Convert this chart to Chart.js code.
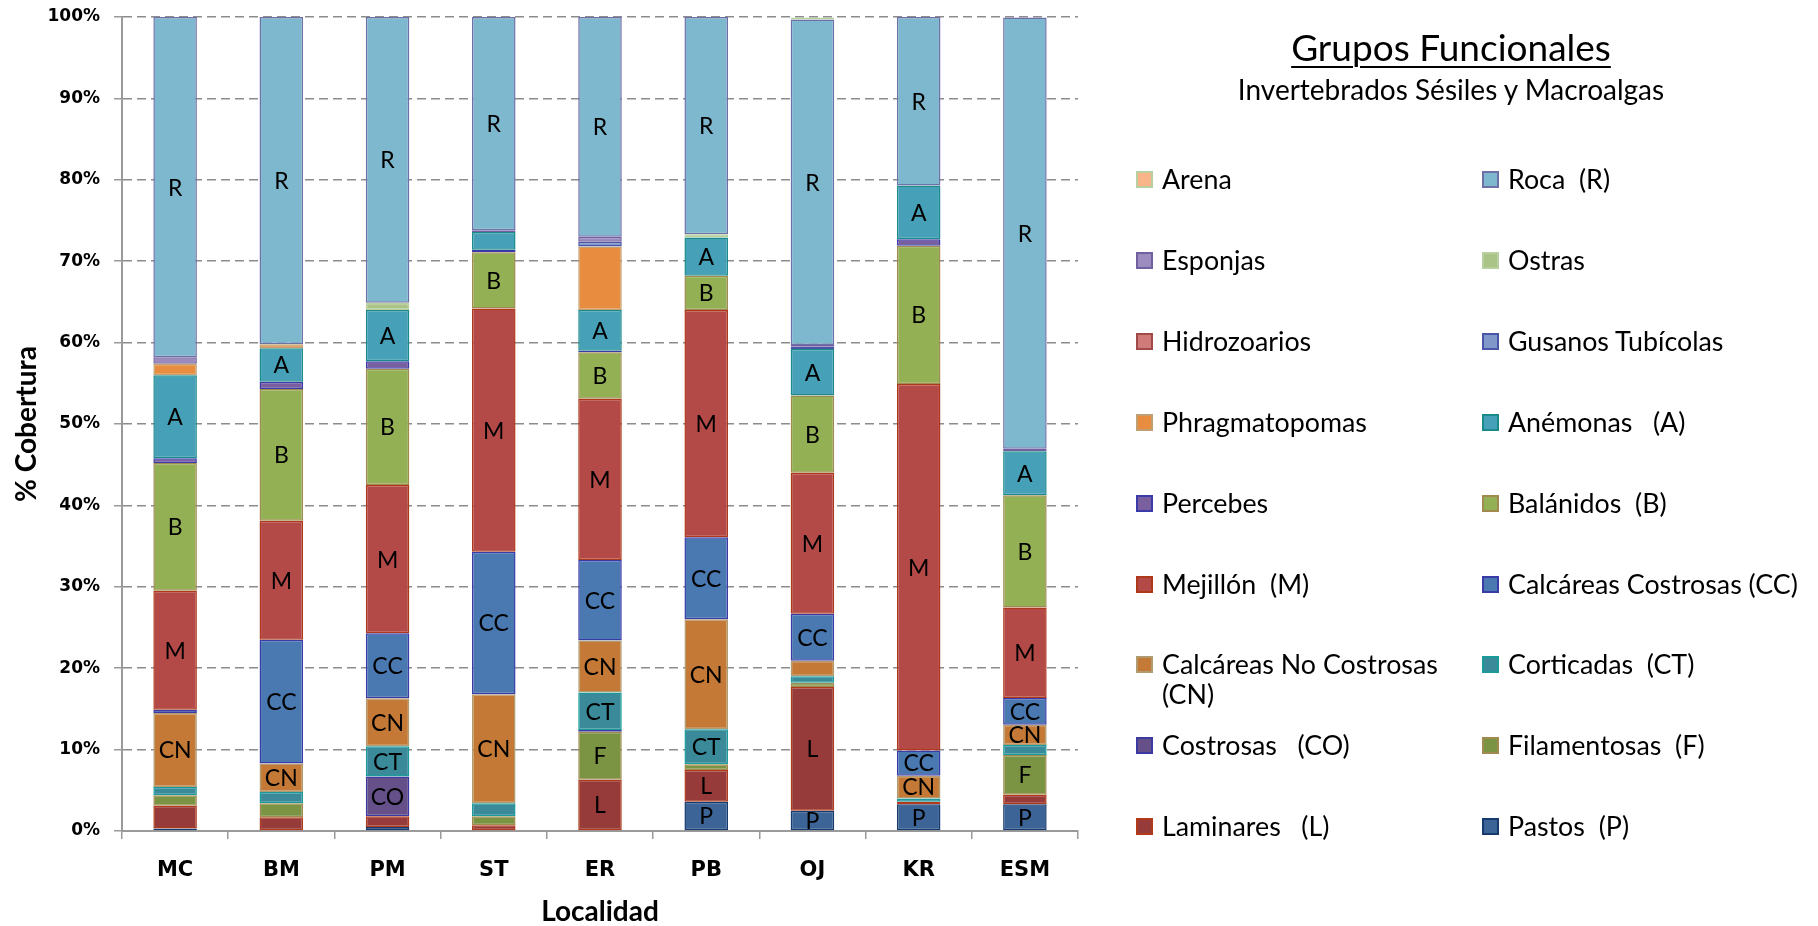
<!DOCTYPE html>
<html>
<head>
<meta charset="utf-8">
<title>Grupos Funcionales</title>
<script src="https://cdn.jsdelivr.net/npm/chart.js@4/dist/chart.umd.min.js"></script>
<style>
  html, body { margin: 0; padding: 0; background: #fff; }
  #wrap { position: relative; width: 1818px; height: 926px; overflow: hidden; }
  #chart { position: absolute; left: 0; top: 0; }
  #legendBox { position: absolute; left: 0; top: 0; font-family: Lato, "Open Sans", sans-serif; color: #000; }
  .lg-title { position: absolute; left: 1151px; width: 600px; top: 25px; text-align: center;
    font-size: 37px; line-height: 44px; text-decoration: underline; text-underline-offset: 5px; text-decoration-thickness: 2px; }
  .lg-sub { position: absolute; left: 1151px; width: 600px; top: 73px; text-align: center;
    font-size: 28px; line-height: 32px; }
  .lg-item { position: absolute; display: flex; align-items: flex-start; }
  .lg-mark { width: 13px; height: 13px; border: 2px solid; margin-top: 7px; flex: none; }
  .lg-text { font-size: 26.8px; line-height: 30px; margin-left: 9px; white-space: pre-wrap; width: 300px; }
</style>
</head>
<body>
<div id="wrap">
  <canvas id="chart" width="1818" height="926"></canvas>
  <div id="legendBox"></div>
</div>
<script>
// Localidades
const categories = ["MC", "BM", "PM", "ST", "ER", "PB", "OJ", "KR", "ESM"];

// % cobertura per grupo (same order as categories)
const pastos       = [0.3, 0,    0.5,  0,    0,    3.6,  2.5,  3.3,  3.3];
const laminares    = [2.8, 1.7,  1.3,  0.7,  6.3,  3.9,  15.2, 0.3,  1.15];
const filamentosas = [1.3, 1.7,  0,    1.1,  5.9,  0.7,  0.5,  0,    4.9];
const costrosas    = [0,   0,    4.9,  0,    0.2,  0,    0,    0,    0];
const corticadas   = [1.0, 1.4,  3.7,  1.6,  4.6,  4.3,  0.8,  0.4,  1.2];
const calcNoCost   = [9.1, 3.5,  5.9,  13.4, 6.4,  13.5, 1.9,  2.8,  2.5];
const calcCost     = [0.4, 15.2, 8.0,  17.5, 9.9,  10.1, 5.8,  3.1,  3.3];
const mejillon     = [14.6, 14.6, 18.2, 29.9, 19.8, 27.9, 17.3, 45.0, 11.1];
const balanidos    = [15.7, 16.2, 14.3, 6.9, 5.7,  4.2,  9.5,  17.0, 13.8];
const percebes     = [0.6, 0.9,  0.9,  0.3,  0.2,  0,    0,    0.8,  0];
const anemonas     = [10.2, 4.1, 6.3,  2.2,  5.0,  4.7,  5.7,  6.6,  5.4];
const phragmato    = [1.4, 0.5,  0,    0,    7.8,  0,    0,    0,    0];
const gusanos      = [0,   0,    0,    0,    0.6,  0,    0.3,  0,    0];
const hidrozoarios = [0,   0,    0,    0,    0,    0,    0,    0,    0];
const ostras       = [0,   0,    0.9,  0,    0,    0.4,  0,    0,    0];
const esponjas     = [0.8, 0,    0,    0.2,  0.6,  0,    0.2,  0,    0.3];
const roca         = [41.8, 40.2, 35.1, 26.2, 27.0, 26.7, 40.0, 20.7, 53.0];
const arena        = [0,   0,    0,    0,    0,    0,    0.25, 0,    0];

// y axis ticks
const yTicks = [0, 10, 20, 30, 40, 50, 60, 70, 80, 90, 100];

// segments smaller than this carry no letter; plus one hand-picked exception
const LABEL_MIN = 2.4;
const hiddenLabels = ["L@MC"];

// stack order, bottom to top
const series = [
  { key: "pastos", label: "Pastos  (P)", abbr: "P", data: pastos },
  { key: "laminares", label: "Laminares   (L)", abbr: "L", data: laminares },
  { key: "filamentosas", label: "Filamentosas  (F)", abbr: "F", data: filamentosas },
  { key: "costrosas", label: "Costrosas   (CO)", abbr: "CO", data: costrosas },
  { key: "corticadas", label: "Corticadas  (CT)", abbr: "CT", data: corticadas },
  { key: "calcNoCost", label: "Calcáreas No Costrosas (CN)", abbr: "CN", data: calcNoCost },
  { key: "calcCost", label: "Calcáreas Costrosas (CC)", abbr: "CC", data: calcCost },
  { key: "mejillon", label: "Mejillón  (M)", abbr: "M", data: mejillon },
  { key: "balanidos", label: "Balánidos  (B)", abbr: "B", data: balanidos },
  { key: "percebes", label: "Percebes", abbr: null, data: percebes },
  { key: "anemonas", label: "Anémonas   (A)", abbr: "A", data: anemonas },
  { key: "phragmato", label: "Phragmatopomas", abbr: null, data: phragmato },
  { key: "gusanos", label: "Gusanos Tubícolas", abbr: null, data: gusanos },
  { key: "hidrozoarios", label: "Hidrozoarios", abbr: null, data: hidrozoarios },
  { key: "ostras", label: "Ostras", abbr: null, data: ostras },
  { key: "esponjas", label: "Esponjas", abbr: null, data: esponjas },
  { key: "roca", label: "Roca  (R)", abbr: "R", data: roca },
  { key: "arena", label: "Arena", abbr: null, data: arena },
];

// Excel 2007 style fills and outlines
const fills = {
  pastos: "#3d6496", laminares: "#963a3a", filamentosas: "#7a9444", costrosas: "#65508a",
  corticadas: "#3a8a9a", calcNoCost: "#c47a36", calcCost: "#4a78b0", mejillon: "#b34a48",
  balanidos: "#93b055", percebes: "#7a5fa0", anemonas: "#46a0b8", phragmato: "#e88d3f",
  gusanos: "#7f97c9", hidrozoarios: "#d07a7a", ostras: "#aac487", esponjas: "#9c8bbf",
  roca: "#7eb8ce", arena: "#f9b48a",
};
const borders = {
  pastos: "#173a6e", laminares: "#b03a1a", filamentosas: "#a08a50", costrosas: "#3a3aa0",
  corticadas: "#1a9a9a", calcNoCost: "#b09a70", calcCost: "#3a3aa8", mejillon: "#b0381a",
  balanidos: "#a08a50", percebes: "#3a3aa8", anemonas: "#1a8a8a", phragmato: "#c0a070",
  gusanos: "#4a55a8", hidrozoarios: "#a04a4a", ostras: "#b8d0a0", esponjas: "#7060a0",
  roca: "#7070a8", arena: "#b8d0a0",
};

// Draw the group letters inside each segment
const segmentLabels = {
  id: "segmentLabels",
  afterDatasetsDraw(chart) {
    const { ctx } = chart;
    ctx.save();
    ctx.font = "23px Lato";
    ctx.fillStyle = "#000";
    ctx.textAlign = "center";
    ctx.textBaseline = "middle";
    chart.data.datasets.forEach((ds, i) => {
      if (!ds.abbr) return;
      chart.getDatasetMeta(i).data.forEach((bar, j) => {
        const v = ds.data[j];
        if (v < LABEL_MIN || hiddenLabels.includes(`${ds.abbr}@${categories[j]}`)) return;
        ctx.fillText(ds.abbr, bar.x, (bar.y + bar.base) / 2 + 1);
      });
    });
    ctx.restore();
  },
};

// HTML legend, two columns filled row by row, top of stack first
const buildLegend = (chart) => {
  const box = document.getElementById("legendBox");
  const items = chart.data.datasets.slice().reverse();
  let html = `<div class="lg-title">Grupos Funcionales</div>
    <div class="lg-sub">Invertebrados Sésiles y Macroalgas</div>`;
  items.forEach((ds, i) => {
    const col = i % 2;
    const row = Math.floor(i / 2);
    const left = col ? 1482 : 1136;
    const top = Math.round(179 + row * 80.9 - 15);
    html += `<div class="lg-item" style="left:${left}px; top:${top}px">
        <div class="lg-mark" style="background:${ds.backgroundColor}; border-color:${ds.borderColor}"></div>
        <div class="lg-text">${ds.label}</div>
      </div>`;
  });
  box.innerHTML = html;
};

const ctx = document.getElementById("chart").getContext("2d");
const chart = new Chart(ctx, {
  type: "bar",
  data: {
    labels: categories,
    datasets: series.map((s) => ({
      label: s.label,
      abbr: s.abbr,
      data: s.data,
      backgroundColor: fills[s.key],
      borderColor: borders[s.key],
      borderWidth: 1.5,
      borderSkipped: false,
      categoryPercentage: 1,
      barPercentage: 0.41,
    })),
  },
  options: {
    responsive: false,
    animation: false,
    layout: { padding: { top: 17, right: 740, left: 0, bottom: 0 } },
    plugins: {
      legend: { display: false },
      tooltip: { enabled: false },
    },
    scales: {
      x: {
        stacked: true,
        afterFit: (s) => { s.height = 95; },
        grid: { drawOnChartArea: false, color: "#9a9a9a", lineWidth: 1.5, tickLength: 8 },
        border: { color: "#9a9a9a", width: 2 },
        ticks: {
          color: "#000",
          padding: 19,
          font: { family: "DejaVu Sans", size: 21, weight: "bold" },
        },
        title: {
          display: true,
          text: "Localidad",
          color: "#000",
          padding: 0,
          font: { family: "Lato", size: 28, weight: "bold", lineHeight: 1 },
        },
      },
      y: {
        stacked: true,
        min: 0,
        max: 100,
        afterFit: (s) => {
          s.width = 122;
          s.paddingTop = 0;
          s.paddingBottom = 0;
        },
        afterBuildTicks: (s) => { s.ticks = yTicks.map((v) => ({ value: v })); },
        grid: { color: "#8c8c8c", lineWidth: 1.5, tickLength: 8, tickColor: "#9a9a9a" },
        border: { color: "#9a9a9a", width: 2, dash: [9, 5] },
        ticks: {
          color: "#000",
          padding: 14,
          font: { family: "DejaVu Sans", size: 17, weight: "bold" },
          callback: (v) => `${v}%`,
        },
        title: {
          display: true,
          text: "% Cobertura",
          color: "#000",
          padding: { top: 13, bottom: 0 },
          font: { family: "Lato", size: 28, weight: "bold", lineHeight: 1 },
        },
      },
    },
  },
  plugins: [segmentLabels],
});

buildLegend(chart);
</script>
</body>
</html>
